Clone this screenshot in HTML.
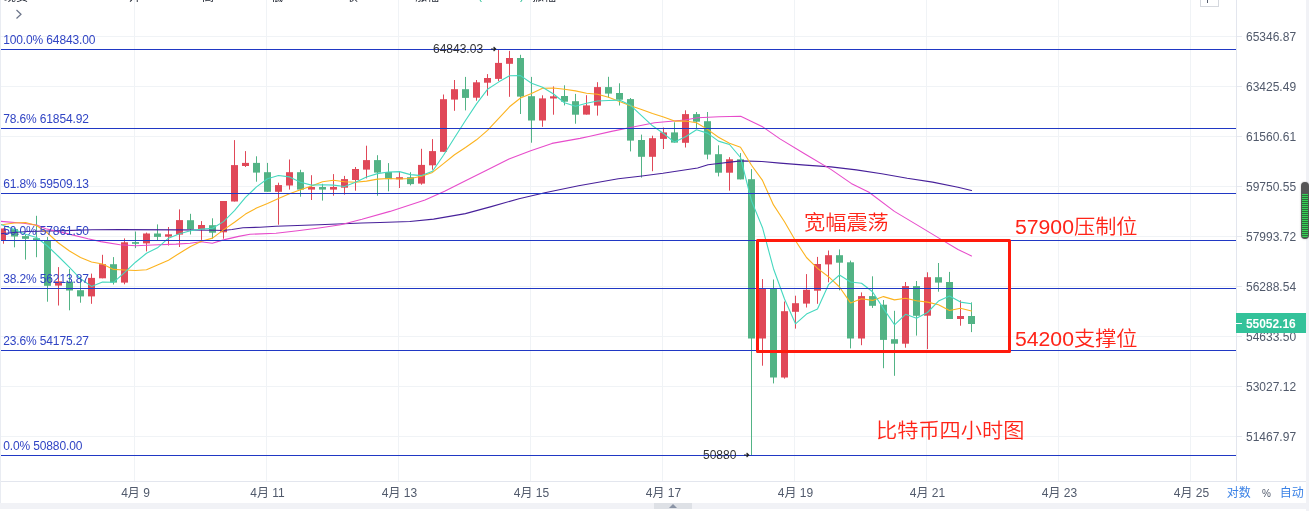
<!DOCTYPE html>
<html lang="zh-CN"><head><meta charset="utf-8"><title>比特币四小时图</title>
<style>
html,body{margin:0;padding:0;background:#fff;}
body{width:1309px;height:511px;position:relative;overflow:hidden;font-family:"Liberation Sans","Noto Sans CJK SC",sans-serif;}
#wrap{position:absolute;left:0;top:0;width:1309px;height:511px;overflow:hidden;background:#fff;}
.fib{position:absolute;left:3.2px;font-size:12px;line-height:14px;color:#3044c4;white-space:nowrap;letter-spacing:-0.13px}
.ax{position:absolute;left:1246px;font-size:12px;line-height:16px;color:#50596b;white-space:nowrap}
.tick{position:absolute;left:1237px;width:5px;height:1px;background:#e6e9f0}
.dt{position:absolute;top:485px;width:80px;text-align:center;font-size:12px;line-height:16px;color:#50596b;white-space:nowrap}
.red{position:absolute;color:#ff2418;white-space:nowrap;font-family:"Liberation Sans","Noto Sans CJK SC",sans-serif;font-weight:350;transform-origin:0 50%;transform:scaleX(1.06)}
.hd{position:absolute;top:-11.4px;font-size:12px;line-height:16px;color:#1f2430;white-space:nowrap}
.lbl{position:absolute;font-size:12px;line-height:14px;color:#333;white-space:nowrap}
</style></head><body><div id="wrap">
<svg width="1309" height="511" viewBox="0 0 1309 511" style="position:absolute;left:0;top:0"><rect x="134" y="0" width="1" height="481" fill="#f0f3f6"/><rect x="266" y="0" width="1" height="481" fill="#f0f3f6"/><rect x="398" y="0" width="1" height="481" fill="#f0f3f6"/><rect x="530" y="0" width="1" height="481" fill="#f0f3f6"/><rect x="662" y="0" width="1" height="481" fill="#f0f3f6"/><rect x="794" y="0" width="1" height="481" fill="#f0f3f6"/><rect x="926" y="0" width="1" height="481" fill="#f0f3f6"/><rect x="1058" y="0" width="1" height="481" fill="#f0f3f6"/><rect x="1190" y="0" width="1" height="481" fill="#f0f3f6"/><rect x="0" y="36" width="1236" height="1" fill="#f0f3f6"/><rect x="0" y="86" width="1236" height="1" fill="#f0f3f6"/><rect x="0" y="136" width="1236" height="1" fill="#f0f3f6"/><rect x="0" y="186" width="1236" height="1" fill="#f0f3f6"/><rect x="0" y="236" width="1236" height="1" fill="#f0f3f6"/><rect x="0" y="286" width="1236" height="1" fill="#f0f3f6"/><rect x="0" y="336" width="1236" height="1" fill="#f0f3f6"/><rect x="0" y="386" width="1236" height="1" fill="#f0f3f6"/><rect x="0" y="436" width="1236" height="1" fill="#f0f3f6"/><rect x="3" y="228.5" width="1" height="15.2" fill="#e04858"/><rect x="1" y="228.5" width="5" height="12.3" fill="#e04858"/><rect x="14" y="228.0" width="1" height="19.3" fill="#52b385"/><rect x="11" y="229.1" width="7" height="7.4" fill="#52b385"/><rect x="25" y="234.5" width="1" height="25.1" fill="#52b385"/><rect x="22" y="236.1" width="7" height="2.7" fill="#52b385"/><rect x="36" y="215.8" width="1" height="41.4" fill="#52b385"/><rect x="33" y="238.2" width="7" height="2.0" fill="#52b385"/><rect x="47" y="236.9" width="1" height="64.8" fill="#52b385"/><rect x="44" y="240.2" width="7" height="45.6" fill="#52b385"/><rect x="58" y="267.1" width="1" height="38.4" fill="#e04858"/><rect x="55" y="281.3" width="7" height="4.3" fill="#e04858"/><rect x="69" y="269.1" width="1" height="41.2" fill="#52b385"/><rect x="66" y="281.7" width="7" height="8.8" fill="#52b385"/><rect x="80" y="277.0" width="1" height="25.7" fill="#52b385"/><rect x="77" y="290.2" width="7" height="6.2" fill="#52b385"/><rect x="91" y="273.6" width="1" height="30.2" fill="#e04858"/><rect x="88" y="277.9" width="7" height="18.5" fill="#e04858"/><rect x="102" y="254.8" width="1" height="23.5" fill="#e04858"/><rect x="99" y="264.2" width="7" height="14.1" fill="#e04858"/><rect x="113" y="257.1" width="1" height="27.4" fill="#52b385"/><rect x="110" y="264.2" width="7" height="18.4" fill="#52b385"/><rect x="124" y="238.4" width="1" height="45.9" fill="#e04858"/><rect x="121" y="242.3" width="7" height="40.3" fill="#e04858"/><rect x="135" y="231.5" width="1" height="16.6" fill="#52b385"/><rect x="132" y="242.1" width="7" height="1.7" fill="#52b385"/><rect x="146" y="232.6" width="1" height="18.8" fill="#e04858"/><rect x="143" y="233.5" width="7" height="9.9" fill="#e04858"/><rect x="157" y="224.4" width="1" height="16.2" fill="#52b385"/><rect x="154" y="233.5" width="7" height="3.4" fill="#52b385"/><rect x="168" y="227.0" width="1" height="18.5" fill="#e04858"/><rect x="165" y="234.3" width="7" height="2.4" fill="#e04858"/><rect x="179" y="209.4" width="1" height="37.6" fill="#e04858"/><rect x="176" y="220.1" width="7" height="14.5" fill="#e04858"/><rect x="190" y="213.8" width="1" height="20.7" fill="#52b385"/><rect x="187" y="220.2" width="7" height="9.2" fill="#52b385"/><rect x="201" y="221.1" width="1" height="18.8" fill="#e04858"/><rect x="198" y="225.0" width="7" height="4.4" fill="#e04858"/><rect x="212" y="218.3" width="1" height="20.4" fill="#52b385"/><rect x="209" y="225.2" width="7" height="7.5" fill="#52b385"/><rect x="223" y="201.0" width="1" height="37.7" fill="#e04858"/><rect x="220" y="201.0" width="7" height="31.3" fill="#e04858"/><rect x="234" y="140.1" width="1" height="61.4" fill="#e04858"/><rect x="231" y="165.1" width="7" height="36.4" fill="#e04858"/><rect x="245" y="151.1" width="1" height="15.9" fill="#e04858"/><rect x="242" y="162.9" width="7" height="3.1" fill="#e04858"/><rect x="256" y="156.3" width="1" height="25.4" fill="#52b385"/><rect x="253" y="162.9" width="7" height="9.7" fill="#52b385"/><rect x="267" y="162.9" width="1" height="28.9" fill="#52b385"/><rect x="264" y="172.2" width="7" height="19.6" fill="#52b385"/><rect x="278" y="182.7" width="1" height="42.0" fill="#e04858"/><rect x="275" y="185.1" width="7" height="6.7" fill="#e04858"/><rect x="289" y="159.5" width="1" height="30.1" fill="#e04858"/><rect x="286" y="172.2" width="7" height="13.3" fill="#e04858"/><rect x="300" y="169.8" width="1" height="26.9" fill="#52b385"/><rect x="297" y="172.2" width="7" height="17.4" fill="#52b385"/><rect x="311" y="175.2" width="1" height="24.8" fill="#e04858"/><rect x="308" y="187.0" width="7" height="2.6" fill="#e04858"/><rect x="322" y="183.8" width="1" height="16.8" fill="#52b385"/><rect x="319" y="187.0" width="7" height="2.6" fill="#52b385"/><rect x="333" y="174.1" width="1" height="21.6" fill="#e04858"/><rect x="330" y="187.0" width="7" height="2.6" fill="#e04858"/><rect x="344" y="175.9" width="1" height="18.7" fill="#e04858"/><rect x="341" y="179.1" width="7" height="8.6" fill="#e04858"/><rect x="355" y="167.0" width="1" height="23.7" fill="#e04858"/><rect x="352" y="169.0" width="7" height="11.0" fill="#e04858"/><rect x="366" y="145.7" width="1" height="32.7" fill="#e04858"/><rect x="363" y="160.1" width="7" height="9.5" fill="#e04858"/><rect x="377" y="155.2" width="1" height="40.5" fill="#52b385"/><rect x="374" y="160.1" width="7" height="12.5" fill="#52b385"/><rect x="388" y="163.1" width="1" height="28.2" fill="#52b385"/><rect x="385" y="172.0" width="7" height="7.1" fill="#52b385"/><rect x="399" y="171.8" width="1" height="16.2" fill="#e04858"/><rect x="396" y="177.2" width="7" height="2.1" fill="#e04858"/><rect x="410" y="172.2" width="1" height="13.2" fill="#52b385"/><rect x="407" y="177.2" width="7" height="6.9" fill="#52b385"/><rect x="421" y="148.8" width="1" height="35.9" fill="#e04858"/><rect x="418" y="164.9" width="7" height="18.7" fill="#e04858"/><rect x="432" y="139.1" width="1" height="30.6" fill="#e04858"/><rect x="429" y="151.1" width="7" height="14.2" fill="#e04858"/><rect x="443" y="94.5" width="1" height="57.3" fill="#e04858"/><rect x="440" y="99.2" width="7" height="52.6" fill="#e04858"/><rect x="454" y="80.0" width="1" height="30.8" fill="#e04858"/><rect x="451" y="89.2" width="7" height="10.4" fill="#e04858"/><rect x="465" y="76.9" width="1" height="33.5" fill="#52b385"/><rect x="462" y="89.2" width="7" height="8.7" fill="#52b385"/><rect x="476" y="80.0" width="1" height="20.7" fill="#e04858"/><rect x="473" y="82.3" width="7" height="15.4" fill="#e04858"/><rect x="487" y="74.1" width="1" height="21.6" fill="#e04858"/><rect x="484" y="78.0" width="7" height="4.7" fill="#e04858"/><rect x="498" y="49.8" width="1" height="31.2" fill="#e04858"/><rect x="495" y="62.9" width="7" height="16.0" fill="#e04858"/><rect x="509" y="50.9" width="1" height="45.9" fill="#e04858"/><rect x="506" y="58.0" width="7" height="5.8" fill="#e04858"/><rect x="520" y="54.8" width="1" height="59.2" fill="#52b385"/><rect x="517" y="58.0" width="7" height="38.6" fill="#52b385"/><rect x="531" y="76.9" width="1" height="65.8" fill="#52b385"/><rect x="528" y="96.2" width="7" height="24.3" fill="#52b385"/><rect x="542" y="95.3" width="1" height="31.5" fill="#e04858"/><rect x="539" y="98.4" width="7" height="22.1" fill="#e04858"/><rect x="553" y="86.4" width="1" height="28.3" fill="#e04858"/><rect x="550" y="96.3" width="7" height="2.2" fill="#e04858"/><rect x="564" y="85.3" width="1" height="20.1" fill="#52b385"/><rect x="561" y="96.0" width="7" height="5.7" fill="#52b385"/><rect x="575" y="93.9" width="1" height="29.8" fill="#52b385"/><rect x="572" y="101.2" width="7" height="13.5" fill="#52b385"/><rect x="586" y="95.2" width="1" height="19.4" fill="#e04858"/><rect x="583" y="105.4" width="7" height="9.2" fill="#e04858"/><rect x="597" y="82.2" width="1" height="33.4" fill="#e04858"/><rect x="594" y="87.1" width="7" height="18.5" fill="#e04858"/><rect x="608" y="76.8" width="1" height="20.7" fill="#52b385"/><rect x="605" y="87.1" width="7" height="6.5" fill="#52b385"/><rect x="619" y="83.3" width="1" height="22.2" fill="#52b385"/><rect x="616" y="93.0" width="7" height="6.7" fill="#52b385"/><rect x="630" y="98.0" width="1" height="53.4" fill="#52b385"/><rect x="627" y="99.1" width="7" height="41.5" fill="#52b385"/><rect x="641" y="134.6" width="1" height="43.0" fill="#52b385"/><rect x="638" y="140.0" width="7" height="16.8" fill="#52b385"/><rect x="652" y="135.7" width="1" height="35.5" fill="#e04858"/><rect x="649" y="138.2" width="7" height="18.6" fill="#e04858"/><rect x="663" y="127.5" width="1" height="21.5" fill="#e04858"/><rect x="660" y="132.4" width="7" height="6.5" fill="#e04858"/><rect x="674" y="122.3" width="1" height="20.3" fill="#52b385"/><rect x="671" y="132.4" width="7" height="10.2" fill="#52b385"/><rect x="685" y="110.3" width="1" height="37.2" fill="#e04858"/><rect x="682" y="114.1" width="7" height="28.7" fill="#e04858"/><rect x="696" y="112.0" width="1" height="16.1" fill="#52b385"/><rect x="693" y="114.1" width="7" height="7.6" fill="#52b385"/><rect x="707" y="112.0" width="1" height="47.3" fill="#52b385"/><rect x="704" y="121.2" width="7" height="33.4" fill="#52b385"/><rect x="718" y="145.3" width="1" height="31.1" fill="#52b385"/><rect x="715" y="154.2" width="7" height="18.5" fill="#52b385"/><rect x="729" y="157.2" width="1" height="33.4" fill="#e04858"/><rect x="726" y="159.3" width="7" height="13.4" fill="#e04858"/><rect x="740" y="153.1" width="1" height="26.3" fill="#52b385"/><rect x="737" y="159.3" width="7" height="20.1" fill="#52b385"/><rect x="751" y="169.1" width="1" height="286.4" fill="#52b385"/><rect x="748" y="179.2" width="7" height="159.3" fill="#52b385"/><rect x="762" y="279.1" width="1" height="86.6" fill="#e04858"/><rect x="759" y="288.6" width="7" height="49.9" fill="#e04858"/><rect x="773" y="279.5" width="1" height="103.9" fill="#52b385"/><rect x="770" y="288.6" width="7" height="88.9" fill="#52b385"/><rect x="784" y="301.5" width="1" height="77.1" fill="#e04858"/><rect x="781" y="311.2" width="7" height="66.3" fill="#e04858"/><rect x="795" y="295.7" width="1" height="32.9" fill="#e04858"/><rect x="792" y="303.2" width="7" height="8.6" fill="#e04858"/><rect x="806" y="274.1" width="1" height="33.4" fill="#e04858"/><rect x="803" y="289.8" width="7" height="13.8" fill="#e04858"/><rect x="817" y="256.9" width="1" height="46.9" fill="#e04858"/><rect x="814" y="264.0" width="7" height="26.7" fill="#e04858"/><rect x="828" y="250.5" width="1" height="31.8" fill="#e04858"/><rect x="825" y="255.2" width="7" height="9.2" fill="#e04858"/><rect x="839" y="249.4" width="1" height="40.9" fill="#52b385"/><rect x="836" y="255.2" width="7" height="7.5" fill="#52b385"/><rect x="850" y="260.6" width="1" height="87.8" fill="#52b385"/><rect x="847" y="262.3" width="7" height="76.2" fill="#52b385"/><rect x="861" y="292.4" width="1" height="52.8" fill="#e04858"/><rect x="858" y="296.1" width="7" height="42.4" fill="#e04858"/><rect x="872" y="276.3" width="1" height="31.6" fill="#52b385"/><rect x="869" y="296.1" width="7" height="9.7" fill="#52b385"/><rect x="883" y="300.0" width="1" height="68.2" fill="#52b385"/><rect x="880" y="304.7" width="7" height="35.2" fill="#52b385"/><rect x="894" y="310.8" width="1" height="65.0" fill="#52b385"/><rect x="891" y="339.2" width="7" height="4.5" fill="#52b385"/><rect x="905" y="282.0" width="1" height="65.7" fill="#e04858"/><rect x="902" y="286.1" width="7" height="57.6" fill="#e04858"/><rect x="916" y="281.0" width="1" height="54.6" fill="#52b385"/><rect x="913" y="286.1" width="7" height="29.7" fill="#52b385"/><rect x="927" y="272.3" width="1" height="76.8" fill="#e04858"/><rect x="924" y="277.2" width="7" height="38.5" fill="#e04858"/><rect x="938" y="263.0" width="1" height="28.7" fill="#52b385"/><rect x="935" y="277.2" width="7" height="5.4" fill="#52b385"/><rect x="949" y="271.9" width="1" height="47.1" fill="#52b385"/><rect x="946" y="282.0" width="7" height="37.0" fill="#52b385"/><rect x="960" y="300.3" width="1" height="25.4" fill="#e04858"/><rect x="957" y="316.0" width="7" height="3.0" fill="#e04858"/><rect x="971" y="302.4" width="1" height="29.7" fill="#52b385"/><rect x="968" y="316.0" width="7" height="8.0" fill="#52b385"/><polyline points="1.0,233.8 14.0,232.5 27.5,231.5 64.0,230.6 92.0,229.8 120.0,229.6 180.0,229.9 215.0,230.3 223.0,230.5 232.0,229.5 243.0,227.8 260.0,227.2 276.0,226.2 319.0,224.7 362.0,223.0 380.0,222.5 409.8,221.5 433.6,219.1 465.4,213.6 491.2,206.6 519.0,198.7 544.8,192.7 578.6,185.7 618.3,178.8 640.0,176.2 663.0,173.3 697.6,168.0 708.0,164.7 740.7,160.9 762.0,161.5 780.0,163.1 805.4,165.1 830.9,166.9 856.3,169.9 881.7,173.7 907.2,178.3 932.6,182.1 958.0,187.2 971.5,190.5" fill="none" stroke="#47209a" stroke-width="1.1" stroke-linejoin="round" stroke-linecap="round"/><polyline points="1.0,221.4 23.5,223.2 36.7,225.1 45.8,228.7 64.0,232.9 88.0,238.8 100.8,241.6 120.0,244.8 136.0,245.8 152.6,245.0 176.0,244.1 190.0,243.2 201.0,241.7 212.3,243.2 223.5,239.9 238.7,236.4 250.0,234.3 276.0,233.3 297.6,230.8 319.0,228.0 340.7,224.7 362.0,219.3 390.0,211.4 425.0,200.0 444.6,191.2 466.0,180.4 487.6,169.7 509.0,158.9 530.7,150.7 552.0,143.4 580.0,138.4 590.0,136.3 611.5,131.4 633.0,127.0 654.6,122.7 684.7,120.0 697.6,117.8 719.0,116.7 740.7,116.3 762.0,126.4 780.0,138.9 805.4,154.2 830.9,169.4 851.2,183.4 869.0,192.3 894.4,211.4 919.9,226.6 940.2,238.9 958.0,249.5 971.5,255.9" fill="none" stroke="#e74ccb" stroke-width="1.1" stroke-linejoin="round" stroke-linecap="round"/><polyline points="1.0,224.7 3.5,224.5 14.5,223.0 25.5,222.5 36.5,225.5 47.5,233.0 58.5,243.0 69.5,251.0 80.5,257.5 91.5,262.0 102.5,264.0 113.5,269.4 124.5,270.0 135.5,270.5 146.5,269.8 157.5,264.9 168.5,260.2 179.5,253.2 190.5,246.5 201.5,241.2 212.5,238.1 223.5,229.9 234.5,222.2 245.5,214.1 256.5,208.0 267.5,203.5 278.5,198.6 289.5,193.8 300.5,189.8 311.5,186.0 322.5,181.7 333.5,180.3 344.5,181.7 355.5,182.3 366.5,181.1 377.5,179.1 388.5,178.5 399.5,179.0 410.5,178.5 421.5,176.3 432.5,172.4 443.5,163.6 454.5,154.7 465.5,147.5 476.5,139.8 487.5,130.3 498.5,118.7 509.5,106.8 520.5,98.0 531.5,93.6 542.5,88.3 553.5,88.0 564.5,89.3 575.5,90.9 586.5,93.2 597.5,94.2 608.5,97.2 619.5,101.4 630.5,105.8 641.5,109.4 652.5,113.4 663.5,117.0 674.5,121.1 685.5,121.0 696.5,122.7 707.5,129.4 718.5,137.3 729.5,143.3 740.5,147.2 751.5,165.3 762.5,180.4 773.5,204.9 784.5,221.8 795.5,240.7 806.5,257.5 817.5,268.4 828.5,276.7 839.5,287.0 850.5,302.9 861.5,298.7 872.5,300.4 883.5,296.6 894.5,299.9 905.5,298.2 916.5,300.8 927.5,302.1 938.5,304.8 949.5,310.5 960.5,308.2 971.5,311.0" fill="none" stroke="#fcb31f" stroke-width="1.1" stroke-linejoin="round" stroke-linecap="round"/><polyline points="1.0,224.5 3.5,225.5 14.5,229.5 25.5,234.3 36.5,237.5 47.5,246.0 58.5,256.5 69.5,267.3 80.5,278.8 91.5,286.4 102.5,282.1 113.5,282.3 124.5,272.7 135.5,262.2 146.5,253.3 157.5,247.8 168.5,238.2 179.5,233.7 190.5,230.8 201.5,229.1 212.5,228.3 223.5,221.6 234.5,210.6 245.5,197.3 256.5,186.9 267.5,178.7 278.5,175.5 289.5,176.9 300.5,182.3 311.5,185.1 322.5,184.7 333.5,185.1 344.5,186.5 355.5,182.3 366.5,177.0 377.5,173.6 388.5,172.0 399.5,171.6 410.5,174.6 421.5,175.6 432.5,171.3 443.5,155.3 454.5,137.7 465.5,120.5 476.5,103.9 487.5,89.3 498.5,82.1 509.5,75.8 520.5,75.6 531.5,83.2 542.5,87.3 553.5,94.0 564.5,102.7 575.5,106.3 586.5,103.3 597.5,101.0 608.5,100.5 619.5,100.1 630.5,105.3 641.5,115.6 652.5,125.8 663.5,133.5 674.5,142.1 685.5,136.8 696.5,129.8 707.5,133.1 718.5,141.1 729.5,144.5 740.5,157.5 751.5,200.9 762.5,227.7 773.5,268.7 784.5,299.0 795.5,323.8 806.5,314.1 817.5,309.1 828.5,284.7 839.5,275.0 850.5,282.0 861.5,283.3 872.5,291.7 883.5,308.6 894.5,324.8 905.5,314.3 916.5,318.3 927.5,312.5 938.5,301.1 949.5,296.1 960.5,302.1 971.5,303.8" fill="none" stroke="#45d8bf" stroke-width="1.1" stroke-linejoin="round" stroke-linecap="round"/><rect x="0" y="49" width="1236" height="1" fill="#2038c4"/><rect x="0" y="128" width="1236" height="1" fill="#2038c4"/><rect x="0" y="193" width="1236" height="1" fill="#2038c4"/><rect x="0" y="240" width="1236" height="1" fill="#2038c4"/><rect x="0" y="288" width="1236" height="1" fill="#2038c4"/><rect x="0" y="350" width="1236" height="1" fill="#2038c4"/><rect x="0" y="455" width="1236" height="1" fill="#2038c4"/><rect x="757.5" y="240.5" width="252" height="111" fill="none" stroke="#ff1a0c" stroke-width="3" stroke-linejoin="round"/></svg>
<div style="position:absolute;left:1236px;top:0;width:1px;height:481px;background:#e3e6ee"></div>
<div style="position:absolute;left:0;top:0;width:1px;height:503px;background:#e9ecf2;z-index:5"></div>
<div style="position:absolute;left:0;top:481px;width:1306px;height:1px;background:#e3e6ee"></div>
<div style="position:absolute;left:1306px;top:0;width:3px;height:511px;background:#f1f2f6"></div>
<div style="position:absolute;left:0;top:503px;width:1309px;height:6px;background:#f1f2f6"></div>
<div style="position:absolute;left:654px;top:503px;width:38px;height:6px;background:#dee1e6"></div>
<div style="position:absolute;left:669px;top:504px;width:0;height:0;border-left:4px solid transparent;border-right:4px solid transparent;border-bottom:4px solid #8a94a5"></div>
<div class="hd" style="left:4px">现货</div><div class="hd" style="left:129px">开</div><div class="hd" style="left:202px">高</div><div class="hd" style="left:271px">低</div><div class="hd" style="left:346px">收</div><div class="hd" style="left:415px">涨幅</div><div class="hd" style="left:478px;top:-12.8px;color:#33c29a">(-0.41%)</div><div class="hd" style="left:532px">振幅</div>
<svg width="12" height="14" viewBox="0 0 12 14" style="position:absolute;left:13px;top:7px"><polyline points="3.5,3 8,7.3 3.5,11.5" fill="none" stroke="#6a7388" stroke-width="1.2"/></svg>
<div style="position:absolute;left:1200px;top:-6px;width:19px;height:13px;border:1px solid #d5d8de;box-sizing:border-box;background:#fff"></div>
<div style="position:absolute;left:1207px;top:0;width:1px;height:3px;background:#555c6b"></div>
<div style="position:absolute;left:1301px;top:182px;width:8px;height:56.5px;border-radius:4px;background:#555;overflow:hidden;box-shadow:0 0 2px rgba(0,0,0,.3)"><div style="position:absolute;left:1px;top:11.5px;width:6px;height:44px;border-radius:0 0 3px 3px;background:repeating-linear-gradient(#37d157 0,#37d157 1.3px,#2d6b3a 1.3px,#2d6b3a 2px)"></div></div>
<div class="fib" style="top:33.0px">100.0% 64843.00</div><div class="fib" style="top:112.0px">78.6% 61854.92</div><div class="fib" style="top:176.8px">61.8% 59509.13</div><div class="fib" style="top:223.8px">50.0% 57861.50</div><div class="fib" style="top:272.2px">38.2% 56213.87</div><div class="fib" style="top:334.1px">23.6% 54175.27</div><div class="fib" style="top:439.2px">0.0% 50880.00</div>
<div class="tick" style="top:36px"></div><div class="ax" style="top:29px">65346.87</div><div class="tick" style="top:86px"></div><div class="ax" style="top:79px">63425.49</div><div class="tick" style="top:136px"></div><div class="ax" style="top:129px">61560.61</div><div class="tick" style="top:186px"></div><div class="ax" style="top:179px">59750.55</div><div class="tick" style="top:236px"></div><div class="ax" style="top:229px">57993.72</div><div class="tick" style="top:286px"></div><div class="ax" style="top:279px">56288.54</div><div class="tick" style="top:336px"></div><div class="ax" style="top:329px">54633.50</div><div class="tick" style="top:386px"></div><div class="ax" style="top:379px">53027.12</div><div class="tick" style="top:436px"></div><div class="ax" style="top:429px">51467.97</div>
<div class="dt" style="left:95.5px">4月 9</div><div class="dt" style="left:227.5px">4月 11</div><div class="dt" style="left:359.5px">4月 13</div><div class="dt" style="left:491.5px">4月 15</div><div class="dt" style="left:623.5px">4月 17</div><div class="dt" style="left:755.5px">4月 19</div><div class="dt" style="left:887.5px">4月 21</div><div class="dt" style="left:1019.5px">4月 23</div><div class="dt" style="left:1151.5px">4月 25</div>
<div class="lbl" style="left:433px;top:42px">64843.03<svg width="7" height="8" viewBox="0 0 7 8" style="display:inline-block;vertical-align:0px;margin-left:7px"><path d="M1 4H5.5M3.6 2L5.7 4L3.6 6" fill="none" stroke="#222" stroke-width="1.1"/></svg></div>
<div class="lbl" style="left:703px;top:448px">50880<svg width="7" height="8" viewBox="0 0 7 8" style="display:inline-block;vertical-align:0px;margin-left:7px"><path d="M1 4H5.5M3.6 2L5.7 4L3.6 6" fill="none" stroke="#222" stroke-width="1.1"/></svg></div>
<div class="red" style="left:803.5px;top:208px;font-size:20px;line-height:30px">宽幅震荡</div>
<div class="red" style="left:1015px;top:212px;font-size:20px;line-height:30px">57900压制位</div>
<div class="red" style="left:1015px;top:324px;font-size:20px;line-height:30px">54200支撑位</div>
<div class="red" style="left:875.8px;top:416px;font-size:20px;line-height:30px">比特币四小时图</div>
<div style="position:absolute;left:1236px;top:313px;width:70px;height:20px;background:#33c29a"></div>
<div style="position:absolute;left:1236px;top:323px;width:6px;height:1px;background:#fff"></div>
<div style="position:absolute;left:1246px;top:316px;font-size:12px;line-height:16px;color:#fff;font-weight:bold;letter-spacing:-0.05px">55052.16</div>
<div style="position:absolute;left:1226.8px;top:485px;font-size:12px;line-height:16px;color:#3b82e6;white-space:nowrap">对数</div>
<div style="position:absolute;left:1262px;top:485.5px;font-size:10px;line-height:16px;color:#50596b;white-space:nowrap">%</div>
<div style="position:absolute;left:1279.7px;top:485px;font-size:12px;line-height:16px;color:#3b82e6;white-space:nowrap">自动</div>
</div></body></html>
